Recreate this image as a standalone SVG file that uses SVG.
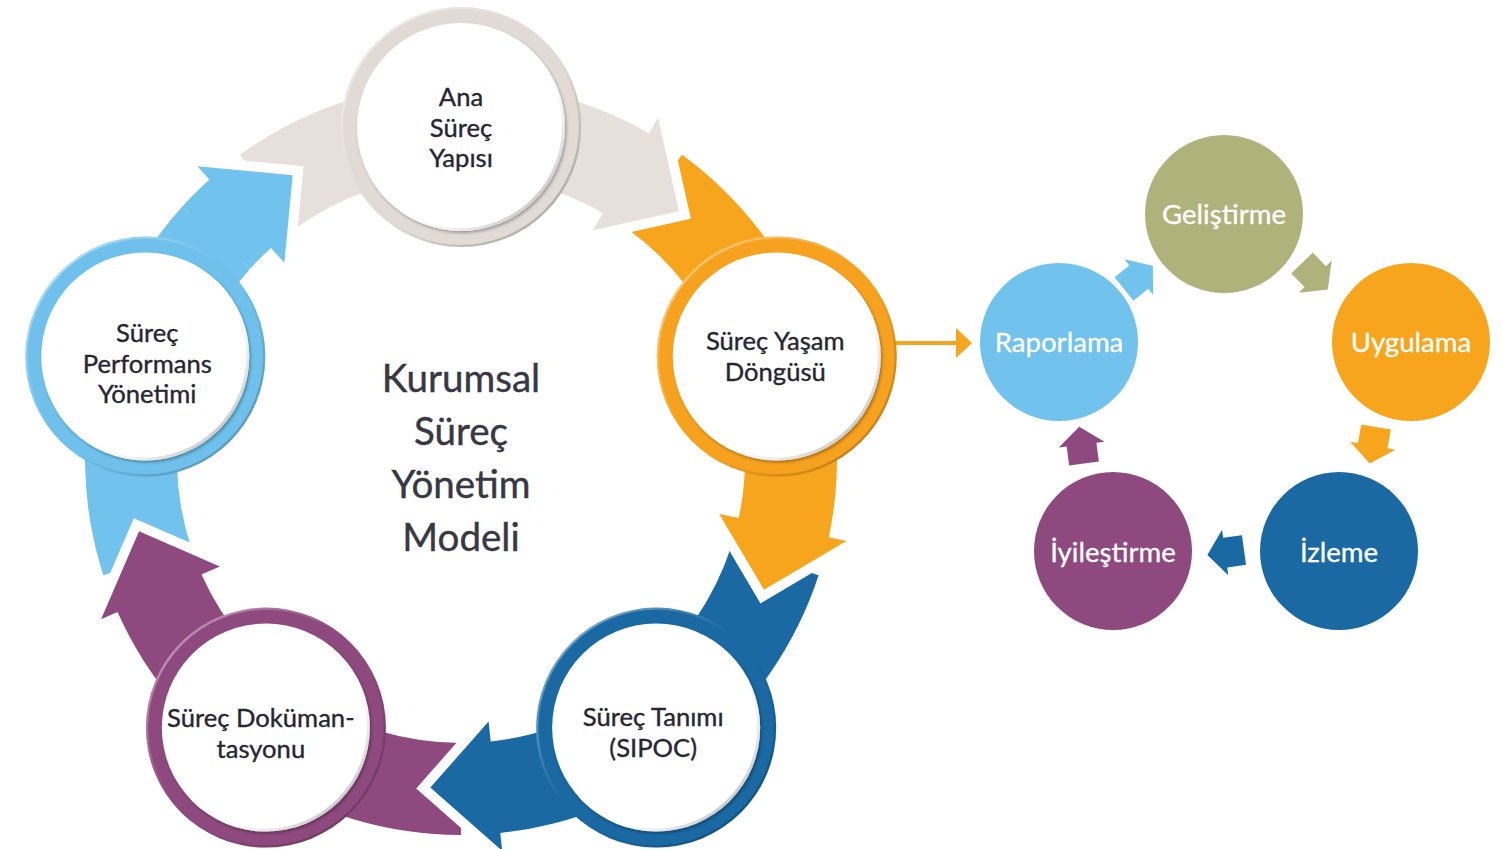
<svg xmlns="http://www.w3.org/2000/svg" xmlns:xlink="http://www.w3.org/1999/xlink" width="1502" height="849" viewBox="0 0 1502 849">
<style>
.lbl{font-family:Lato,'Liberation Sans',sans-serif;font-size:25.6px;fill:#262631;stroke:#262631;stroke-width:0.35px;text-anchor:middle}
.ttl{font-family:Lato,'Liberation Sans',sans-serif;font-size:38.6px;fill:#383843;stroke:#383843;stroke-width:0.4px;text-anchor:middle}
.wl{font-family:Lato,'Liberation Sans',sans-serif;font-size:27.6px;fill:#fff;stroke:#fff;stroke-width:0.3px;text-anchor:middle}
.arr{stroke:#fff;stroke-width:20;paint-order:stroke;stroke-linejoin:miter;stroke-miterlimit:4}
.rim{fill:none;stroke:url(#rimG);stroke-width:2.5}
.inner{fill:#fff;filter:url(#sh)}
.ish{fill:none;stroke:url(#innerG);stroke-width:3}
</style>
<defs>
<path id="cw" d="M 239.99 154.81 A 376 376 0 0 1 649 133.38 L 658 117.78 L 678.95 211.21 L 593 230.37 L 603 213.05 A 284 284 0 0 0 294.07 229.24 Z"/>
<clipPath id="headClip" clipPathUnits="userSpaceOnUse"><polygon points="461,459 639.97,57.04 798.06,176.17"/></clipPath>
<polygon id="sa" points="0,-15 19,-15 19,-23 37,0 19,23 19,15 0,15"/>
<linearGradient id="rimG" x1="0" y1="0" x2="1" y2="1">
<stop offset="0" stop-color="#fff" stop-opacity="0.55"/>
<stop offset="0.45" stop-color="#fff" stop-opacity="0"/>
<stop offset="0.55" stop-color="#000" stop-opacity="0"/>
<stop offset="1" stop-color="#000" stop-opacity="0.3"/>
</linearGradient>
<linearGradient id="innerG" x1="0" y1="0" x2="1" y2="1">
<stop offset="0" stop-color="#fff" stop-opacity="0"/>
<stop offset="0.55" stop-color="#fff" stop-opacity="0"/>
<stop offset="1" stop-color="#8a8a8a" stop-opacity="0.9"/>
</linearGradient>
<filter id="sh" x="-10%" y="-10%" width="125%" height="125%">
<feDropShadow dx="1.5" dy="2" stdDeviation="1.5" flood-color="#000" flood-opacity="0.3"/>
</filter>
</defs>

<g id="connectors">
<use xlink:href="#cw" href="#cw" class="arr" fill="#71C2EC" transform="rotate(288 461 459)"/>
<use xlink:href="#cw" href="#cw" class="arr" fill="#8E4A7E" transform="rotate(216 461 459)"/>
<use xlink:href="#cw" href="#cw" class="arr" fill="#1A69A3" transform="rotate(144 461 459)"/>
<use xlink:href="#cw" href="#cw" class="arr" fill="#F8A51E" transform="rotate(72 461 459)"/>
<use xlink:href="#cw" href="#cw" class="arr" fill="#E7DFD9"/>
<g transform="rotate(288 461 459)"><g clip-path="url(#headClip)"><use xlink:href="#cw" href="#cw" class="arr" fill="#71C2EC"/></g></g>
<line x1="880" y1="343" x2="958" y2="343" stroke="#F8A51E" stroke-width="4"/>
<polygon points="956,328 972,343 956,358" fill="#F8A51E"/>
<use xlink:href="#sa" href="#sa" fill="#71C2EC" transform="translate(1124 289) rotate(-38.9)"/>
<use xlink:href="#sa" href="#sa" fill="#B0B27B" transform="translate(1302 263) rotate(45.8)"/>
<use xlink:href="#sa" href="#sa" fill="#F8A51E" transform="translate(1376 427) rotate(99.8)"/>
<use xlink:href="#sa" href="#sa" fill="#1A69A3" transform="translate(1244 550) rotate(172.2)"/>
<use xlink:href="#sa" href="#sa" fill="#8E4A7E" transform="translate(1084 463.5) rotate(-97.4)"/>
</g>

<g id="node-ana" transform="translate(461 127)">
<circle r="120" fill="#E2DBD5"/><circle r="119" class="rim"/>
<circle r="104" class="inner"/><circle r="102.5" class="ish"/>
<text class="lbl" x="0" y="-21">Ana</text>
<text class="lbl" x="0" y="9.5">Süreç</text>
<text class="lbl" x="0" y="40">Yapısı</text>
</g>
<g id="node-yasam" transform="translate(776.75 356.41)">
<circle r="120" fill="#F7A21F"/><circle r="119" class="rim"/>
<circle r="104" class="inner"/><circle r="102.5" class="ish"/>
<text class="lbl" x="-1.5" y="-6.5">Süreç Yaşam</text>
<text class="lbl" x="-1.5" y="25">Döngüsü</text>
</g>
<g id="node-tanim" transform="translate(656.15 727.59)">
<circle r="120" fill="#1A69A3"/><circle r="119" class="rim"/>
<circle r="104" class="inner"/><circle r="102.5" class="ish"/>
<text class="lbl" x="-3" y="-1.5">Süreç Tanımı</text>
<text class="lbl" x="-3" y="29.5">(SIPOC)</text>
</g>
<g id="node-dokuman" transform="translate(265.85 727.59)">
<circle r="120" fill="#8E4A7E"/><circle r="119" class="rim"/>
<circle r="104" class="inner"/><circle r="102.5" class="ish"/>
<text class="lbl" x="-5" y="-1">Süreç Doküman-</text>
<text class="lbl" x="-5" y="30">tasyonu</text>
</g>
<g id="node-performans" transform="translate(145.25 356.41)">
<circle r="120" fill="#6FC1EB"/><circle r="119" class="rim"/>
<circle r="104" class="inner"/><circle r="102.5" class="ish"/>
<text class="lbl" x="2" y="-14">Süreç</text>
<text class="lbl" x="2" y="16.5">Performans</text>
<text class="lbl" x="2" y="47">Yönetimi</text>
</g>

<g id="title">
<text class="ttl" x="461" y="392">Kurumsal</text>
<text class="ttl" x="461" y="445">Süreç</text>
<text class="ttl" x="461" y="498">Yönetim</text>
<text class="ttl" x="461" y="551">Modeli</text>
</g>

<g id="node-raporlama"><circle cx="1059" cy="342" r="79" fill="#71C2EC"/><text class="wl" x="1059" y="352">Raporlama</text></g>
<g id="node-gelistirme"><circle cx="1224" cy="214" r="79" fill="#B0B27B"/><text class="wl" x="1224" y="224">Geliştirme</text></g>
<g id="node-uygulama"><circle cx="1411" cy="342" r="79" fill="#F8A51E"/><text class="wl" x="1411" y="352">Uygulama</text></g>
<g id="node-izleme"><circle cx="1339" cy="551" r="79" fill="#1A69A3"/><text class="wl" x="1339" y="561.5">İzleme</text></g>
<g id="node-iyilestirme"><circle cx="1113" cy="551" r="79" fill="#8E4A7E"/><text class="wl" x="1113" y="561.5">İyileştirme</text></g>
</svg>
